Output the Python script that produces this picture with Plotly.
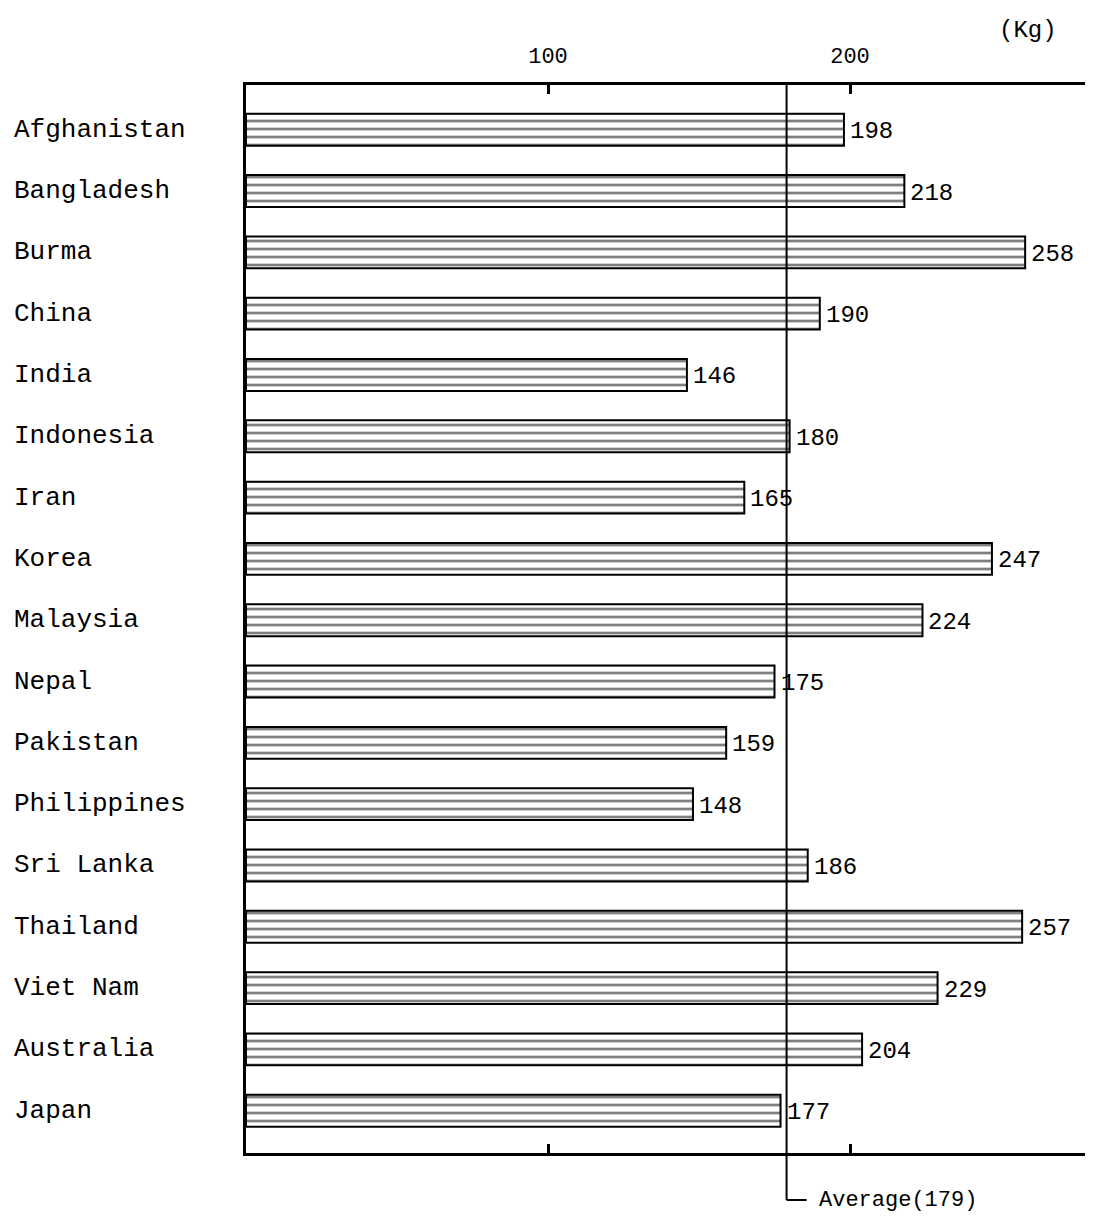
import plotly.graph_objects as go

countries = ["Afghanistan", "Bangladesh", "Burma", "China", "India", "Indonesia", "Iran",
             "Korea", "Malaysia", "Nepal", "Pakistan", "Philippines", "Sri Lanka",
             "Thailand", "Viet Nam", "Australia", "Japan"]
values = [198, 218, 258, 190, 146, 180, 165, 247, 224, 175, 159, 148, 186, 257, 229, 204, 177]
average = 179
tick_vals = [100, 200]
tick_text = ["100", "200"]
unit_label = "(Kg)"

FONT = "Courier New, Liberation Mono, monospace"
OFF = 8  # page body margin in the browser
W, H = 1093 - OFF, 1216 - OFF
ML, MR, MT = 246 - OFF, 0, 85 - OFF
plot_bottom = 1153 - OFF
MB = H - plot_bottom
plot_w = W - ML - MR
plot_h = H - MT - MB
px_per_unit = 3.02
x_max = plot_w / px_per_unit

idx = list(range(len(countries)))

fig = go.Figure()
fig.add_trace(go.Bar(
    orientation="h",
    x=values,
    y=idx,
    width=0.52,
    marker=dict(
        color="white",
        line=dict(color="black", width=2),
        pattern=dict(shape="-", size=8, solidity=0.34, fgcolor="black", bgcolor="white", fillmode="overlay"),
    ),
    hoverinfo="skip",
))

# value labels
for i, v in enumerate(values):
    fig.add_annotation(
        x=v, xref="x", xanchor="left", xshift=4,
        y=i, yref="y", yanchor="middle", yshift=-2,
        text=str(v), showarrow=False,
        font=dict(family=FONT, size=24, color="black"),
    )

# category labels (left aligned)
for i, name in enumerate(countries):
    fig.add_annotation(
        x=(12 - 246) / plot_w, xref="paper", xanchor="left",
        y=i, yref="y", yanchor="middle",
        text=name, showarrow=False,
        font=dict(family=FONT, size=26, color="black"),
    )

# average line
y_bottom_paper = -(1200 - 1153) / plot_h
x_end = average + (808 - 788) / px_per_unit
x_text = average + (818 - 788) / px_per_unit
fig.add_shape(type="line", xref="x", yref="paper", x0=average, x1=average, y0=1, y1=y_bottom_paper,
              line=dict(color="black", width=2))
fig.add_shape(type="line", xref="x", yref="paper", x0=average, x1=x_end, y0=y_bottom_paper, y1=y_bottom_paper,
              line=dict(color="black", width=2))
fig.add_annotation(x=x_text, xref="x", xanchor="left", y=y_bottom_paper, yref="paper", yanchor="middle",
                   text=f"Average({average})", showarrow=False,
                   font=dict(family=FONT, size=22, color="black"))

# unit label
fig.add_annotation(x=(1028 - 246) / plot_w, xref="paper", xanchor="center",
                   y=1 + (85 - 30) / plot_h, yref="paper", yanchor="middle",
                   text=unit_label, showarrow=False,
                   font=dict(family=FONT, size=24, color="black"))

fig.update_layout(
    width=W, height=H,
    margin=dict(l=ML, r=MR, t=MT, b=MB),
    paper_bgcolor="white", plot_bgcolor="white",
    showlegend=False,
    xaxis=dict(
        range=[0, x_max], side="top",
        tickvals=tick_vals, ticktext=tick_text,
        ticks="inside", ticklen=9, tickwidth=3, tickcolor="black",
        ticklabelstandoff=10,
        showline=True, linecolor="black", linewidth=2.5, mirror="ticks",
        showgrid=False, zeroline=False,
        tickfont=dict(family=FONT, size=22, color="black"),
    ),
    yaxis=dict(
        range=[16.69, -0.73],
        showticklabels=False, ticks="",
        showline=True, linecolor="black", linewidth=2.5,
        showgrid=False, zeroline=False,
    ),
)

fig.write_html("out.html")
